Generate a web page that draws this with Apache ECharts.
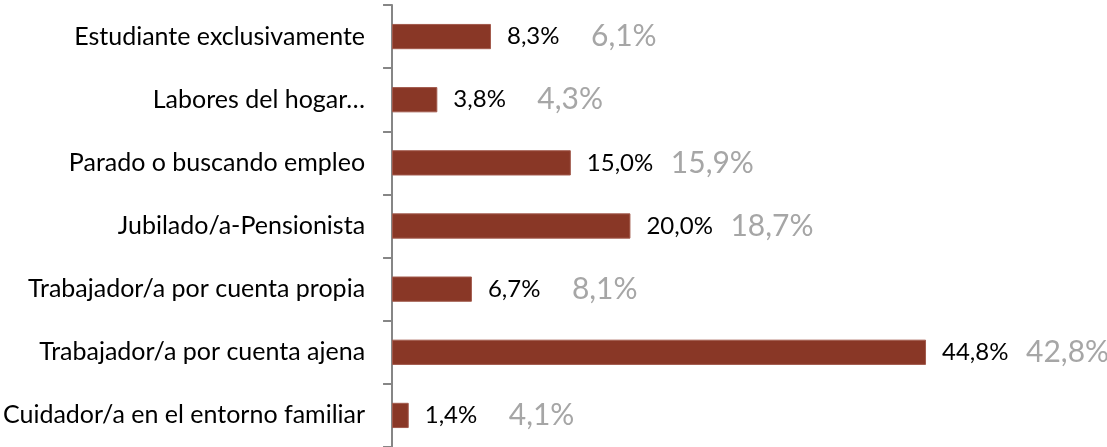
<!DOCTYPE html>
<html>
<head>
<meta charset="utf-8">
<script src="https://cdn.jsdelivr.net/npm/echarts@6/dist/echarts.min.js"></script>
<style>
  html, body { margin: 0; padding: 0; background: #fff; }
  #chart { width: 1107px; height: 447px; }
</style>
</head>
<body>
<div id="chart"></div>
<script>
// categorias (de arriba a abajo)
var categories = [
  'Estudiante exclusivamente',
  'Labores del hogar…',
  'Parado o buscando empleo',
  'Jubilado/a-Pensionista',
  'Trabajador/a por cuenta propia',
  'Trabajador/a por cuenta ajena',
  'Cuidador/a en el entorno familiar'
];
// valor actual (barras)
var values = [8.3, 3.8, 15.0, 20.0, 6.7, 44.8, 1.4];
// valor de comparacion (texto gris)
var compareValues = [6.1, 4.3, 15.9, 18.7, 8.1, 42.8, 4.1];

var FONT = 'Lato';

function pct(v) {
  return v.toFixed(1).replace('.', ',') + '%';
}

var chart = echarts.init(document.getElementById('chart'));
chart.setOption({
  animation: false,
  textStyle: { fontFamily: FONT },
  grid: { left: 392, top: 5, width: 596, height: 443 },
  xAxis: {
    type: 'value',
    min: 0,
    max: 50,
    show: false
  },
  yAxis: {
    type: 'category',
    inverse: true,
    data: categories,
    axisLine: { show: true, lineStyle: { color: '#868686', width: 2 } },
    axisTick: { show: true, length: 9, lineStyle: { color: '#868686', width: 2 } },
    axisLabel: { color: '#000', fontSize: 25, fontFamily: FONT, margin: 27 }
  },
  series: [
    {
      type: 'bar',
      data: values,
      barWidth: '40%',
      itemStyle: { color: '#893726', borderColor: '#a25a4c', borderWidth: 1 },
      label: {
        show: true,
        position: 'right',
        distance: 16,
        formatter: function (p) {
          return '{a|' + pct(p.value) + '}{b|' + pct(compareValues[p.dataIndex]) + '}';
        },
        rich: {
          a: { color: '#000', fontSize: 24, fontFamily: FONT, width: 84 },
          b: { color: '#A6A6A6', fontSize: 30, fontFamily: FONT }
        }
      }
    }
  ]
});
</script>
</body>
</html>
